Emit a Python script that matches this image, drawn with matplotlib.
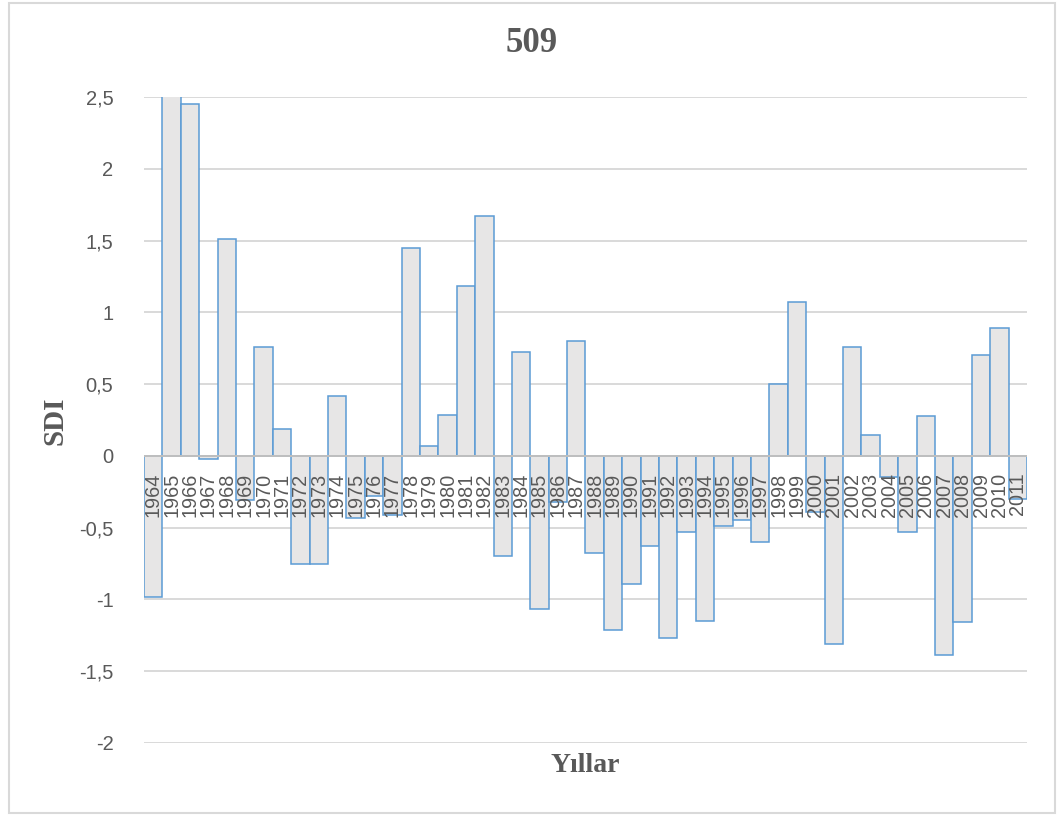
import matplotlib.pyplot as plt
from matplotlib.patches import Rectangle
import numpy as np

years = list(range(1964, 2012))
sdi = [-0.98, 2.62, 2.45, -0.02, 1.51, -0.31, 0.76, 0.19, -0.75, -0.75,
       0.42, -0.43, -0.28, -0.41, 1.45, 0.07, 0.285, 1.18, 1.67, -0.70,
       0.72, -1.065, -0.32, 0.80, -0.68, -1.21, -0.89, -0.63, -1.27, -0.53,
       -1.15, -0.49, -0.45, -0.60, 0.50, 1.07, -0.39, -1.31, 0.755, 0.144,
       -0.144, -0.53, 0.28, -1.39, -1.16, 0.70, 0.89, -0.30]
yticks = [-2, -1.5, -1, -0.5, 0, 0.5, 1, 1.5, 2, 2.5]
ytick_labels = ['-2', '-1,5', '-1', '-0,5', '0', '0,5', '1', '1,5', '2', '2,5']

grey = '#595959'
fig = plt.figure(figsize=(10.6, 8.16), dpi=100)
ax = fig.add_axes([0.1358, 0.0895, 0.8331, 0.7917])

x = np.arange(len(years))
ax.bar(x, sdi, width=1.0, color='#e7e6e6', edgecolor='#5b9bd5', linewidth=1.1, zorder=3)

ax.set_xlim(-0.5, len(years) - 0.5)
ax.set_ylim(-2, 2.5)
ax.set_yticks(yticks)
ax.set_yticklabels(ytick_labels, fontsize=14.5, color=grey, family='Liberation Sans')
ax.tick_params(axis='y', length=0, pad=22)
ax.set_xticks([])
ax.grid(axis='y', color='#d9d9d9', linewidth=1.4, zorder=0)
for s in ax.spines.values():
    s.set_visible(False)
ax.axhline(0, color='#bfbfbf', linewidth=1.4, zorder=4)

# year labels sit just under the zero line
for xi, yr in zip(x, years):
    ax.annotate(str(yr), (xi, 0), xytext=(0, -12), textcoords='offset points',
                rotation=90, ha='center', va='top', fontsize=14.3, color=grey,
                family='Liberation Sans', zorder=5)

fig.text(0.502, 0.947, '509', ha='center', va='center', fontsize=25,
         fontweight='bold', family='Liberation Serif', color=grey)
fig.text(0.552, 0.062, 'Yıllar', ha='center', va='center', fontsize=20,
         fontweight='bold', family='Liberation Serif', color=grey)
fig.text(0.052, 0.484, 'SDI', ha='center', va='center', rotation=90, fontsize=21,
         fontweight='bold', family='Liberation Serif', color=grey)

# chart border
fig.patches.append(Rectangle((9 / 1060, 3 / 816), 1046 / 1060, 810 / 816,
                             transform=fig.transFigure, fill=False,
                             edgecolor='#d9d9d9', linewidth=1.5))

fig.savefig('out.png', dpi=100)
